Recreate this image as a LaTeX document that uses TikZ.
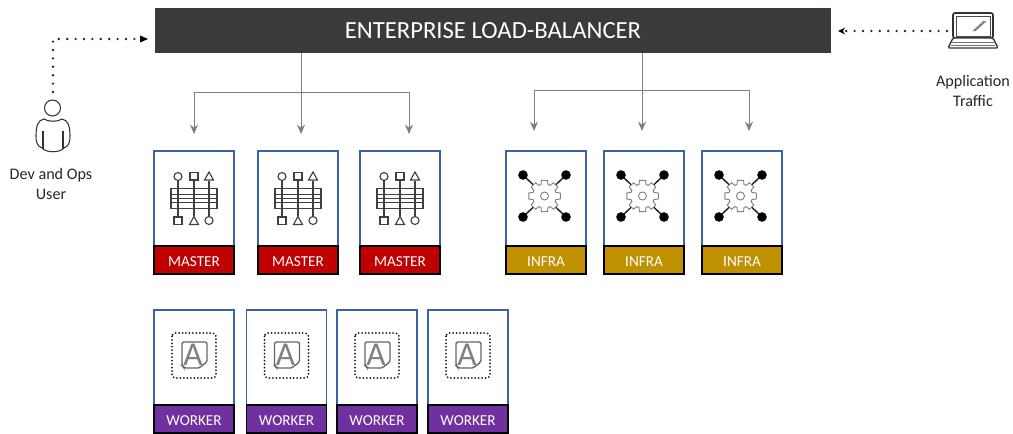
\documentclass[tikz,border=0pt]{standalone}
\usepackage{fontspec}
\setmainfont{Carlito}
\usetikzlibrary{arrows.meta,shapes.geometric}
\definecolor{lbdark}{HTML}{3B3A38}
\definecolor{boxblue}{HTML}{3A62A8}
\definecolor{mred}{HTML}{C00000}
\definecolor{igold}{HTML}{BF9000}
\definecolor{wpurple}{HTML}{7030A0}
\definecolor{icon}{HTML}{404040}
\definecolor{conn}{HTML}{7F7F7F}
\tikzset{
  px/.style={x=0.75pt,y=-0.75pt},
  card/.style={draw=boxblue,line width=0.8pt,fill=white,minimum width=60pt,minimum height=71.25pt,inner sep=0pt,outer sep=0pt},
  tag/.style={draw=black,line width=0.8pt,minimum width=60pt,minimum height=21pt,inner sep=0pt,outer sep=0pt,text=white,text height=9.2pt,text depth=0pt,font=\fontsize{11.4}{13}\selectfont},
  mastertag/.style={tag,fill=mred},
  infratag/.style={tag,fill=igold},
  workertag/.style={tag,fill=wpurple},
  feed/.style={draw=conn,line width=0.7pt},
  feedarrow/.style={feed,-{Stealth[length=7pt,width=6pt]}},
  dotline/.style={line width=2pt,line cap=round,dash pattern=on 0pt off 6.3pt,draw=black!85},
  caption/.style={font=\fontsize{12.1}{15}\selectfont,text=black!85,align=center},
  iconline/.style={draw=icon,line width=0.85pt},
  master icon/.pic={
    \draw[iconline,fill=white] (-23,-10) rectangle (23,10);
    \draw[iconline] (-23,-4)--(23,-4) (-23,0)--(23,0) (-23,4)--(23,4);
    \draw[iconline] (-16,-17)--(-16,18) (0,-17)--(0,18) (15,-17)--(15,18);
    \draw[iconline,fill=white] (-16,-22) circle (4);
    \draw[iconline,fill=white] (-4,-26) rectangle (4,-18.5);
    \draw[iconline,fill=white] (15,-26.5)--(19.5,-18.5)--(10.5,-18.5)--cycle;
    \draw[iconline,fill=white] (-20,18.5) rectangle (-12,26);
    \draw[iconline,fill=white] (0,18)--(4.5,26)--(-4.5,26)--cycle;
    \draw[iconline,fill=white] (15,22) circle (4);
  },
}
\newcommand{\geariconbody}{%
  \draw[draw=black!85,line width=1.1pt] (-21.5,-21)--(-9,-9) (21.5,-21)--(9,-9) (-21.5,21)--(-9,9) (21.5,21)--(9,9);
  \fill[black] (-21.5,-21) circle (4.8) (21.5,-21) circle (4.8) (-21.5,21) circle (4.8) (21.5,21) circle (4.8);
  \draw[draw=black!50,line width=0.7pt,fill=white]
    (0:16) -- (11:16) -- (17:12) -- (28:12) -- (34:16) -- (56:16) -- (62:12) -- (73:12) -- (79:16)
    -- (101:16) -- (107:12) -- (118:12) -- (124:16) -- (146:16) -- (152:12) -- (163:12) -- (169:16)
    -- (191:16) -- (197:12) -- (208:12) -- (214:16) -- (236:16) -- (242:12) -- (253:12) -- (259:16)
    -- (281:16) -- (287:12) -- (298:12) -- (304:16) -- (326:16) -- (332:12) -- (343:12) -- (349:16) -- cycle;
  \draw[draw=black!50,line width=0.7pt] (0,0) circle (4);
}
\newcommand{\workericonbody}{%
  \draw[draw=black!90,line width=1.5pt,line cap=round,dash pattern=on 0pt off 2.6pt,rounded corners=2.5pt] (-22,-22.5) rectangle (22,22.5);
  \draw[draw=black!60,line width=1pt,rounded corners=1.5pt] (-12,-13.5) -- (13,-13.5) -- (13,7) -- (9,9) -- (6,12.5) -- (-10,12.5) -- (-12,10) -- cycle;
  \node[inner sep=0pt,text=black!50,font=\fontsize{25}{25}\selectfont] at (-1,-1) {A};
}
\begin{document}
\begin{tikzpicture}[px]
\useasboundingbox (0,0) rectangle (1013,434);
\node[fill=lbdark,minimum width=507pt,minimum height=33.75pt,inner sep=0pt,outer sep=0pt,text=white,font=\fontsize{18.5}{22}\selectfont] (lb) at (493,30.5) {ENTERPRISE LOAD-BALANCER};

% master cards
\foreach \n/\x in {m1/194,m2/298,m3/400}{
  \node[card] (\n) at (\x,198.5) {};
  \node[mastertag] (\n t) at (\x,260) {MASTER};
  \pic at (\x,198.5) {master icon};
}
% infra cards
\foreach \n/\x in {i1/546,i2/644,i3/742}{
  \node[card] (\n) at (\x,198.5) {};
  \node[infratag] (\n t) at (\x,260) {INFRA};
  \begin{scope}[shift={(\x-1.5,196)}]\geariconbody\end{scope}
}
% worker cards
\foreach \n/\x in {w1/194,w2/286.5,w3/377,w4/468}{
  \node[card] (\n) at (\x,357.5) {};
  \node[workertag] (\n t) at (\x,419) {WORKER};
  \begin{scope}[shift={(\x,355.5)}]\workericonbody\end{scope}
}

% load balancer feeds
\coordinate (mj) at (301,92);
\coordinate (ml) at (194,92);
\coordinate (mr) at (409,92);
\coordinate (ma) at (194,134);
\coordinate (mb) at (301,134);
\coordinate (mc) at (409,134);
\coordinate (ms) at (301,53);
\draw[feed] (ms) -- (mj);
\draw[feedarrow] (mj) -- (mb);
\draw[feedarrow] (mj) -- (ml) -- (ma);
\draw[feedarrow] (mj) -- (mr) -- (mc);
\coordinate (ij) at (642,90);
\coordinate (il) at (534,90);
\coordinate (ir) at (749,90);
\coordinate (ia) at (534,131);
\coordinate (ib) at (642,131);
\coordinate (ic) at (749,131);
\coordinate (is) at (642,53);
\draw[feed] (is) -- (ij);
\draw[feedarrow] (ij) -- (ib);
\draw[feedarrow] (ij) -- (il) -- (ia);
\draw[feedarrow] (ij) -- (ir) -- (ic);

% user
\draw[draw=black!80,line width=0.8pt,fill=white] (52.5,108) circle (8);
\draw[draw=black!80,line width=0.8pt]
  (44,119) .. controls (38,120) and (36,126) .. (36,136) .. controls (36,142) and (37,146) .. (42,148)
  .. controls (46,153) and (60,153) .. (64,148) .. controls (69,146) and (70,142) .. (70,136)
  .. controls (70,126) and (68,120) .. (62,119) .. controls (58,122) and (48,122) .. (44,119) -- cycle;
\draw[draw=black!80,line width=0.8pt] (43,131)--(43,149) (63,131)--(63,149);
\node[caption] (user) at (51,184) {Dev and Ops\\User};
\coordinate (ua) at (53,92);
\coordinate (ub) at (53,39);
\coordinate (uc) at (140,39);
\draw[dotline] (ua) -- (ub) -- (uc);
\coordinate (ue) at (148,39);
\fill[black] (ue) -- (140,35.5) -- (140,42.5) -- cycle;

% laptop
\draw[draw=black!80,line width=1.3pt,rounded corners=1.5pt,fill=white] (953,13) rectangle (993,38);
\draw[draw=black!70,line width=0.7pt] (956,16) rectangle (990,36);
\draw[draw=black!80,line width=1pt,rounded corners=1pt,fill=white] (953,38)--(993,38)--(998,48)--(948,48)--cycle;
\draw[draw=black!55,line width=0.6pt] (952,42)--(994,42) (951,45)--(995,45);
\draw[draw=black!50,line width=0.7pt] (973,31)--(984,21) (975,31)--(986,21);
\node[caption] (app) at (973,91) {Application\\Traffic};
\coordinate (la) at (947,31);
\coordinate (lc) at (846,31);
\draw[dotline] (la) -- (lc);
\coordinate (le) at (838,31);
\fill[black] (le) -- (845,27.5) -- (843,31) -- (845,34.5) -- cycle;
\end{tikzpicture}
\end{document}
